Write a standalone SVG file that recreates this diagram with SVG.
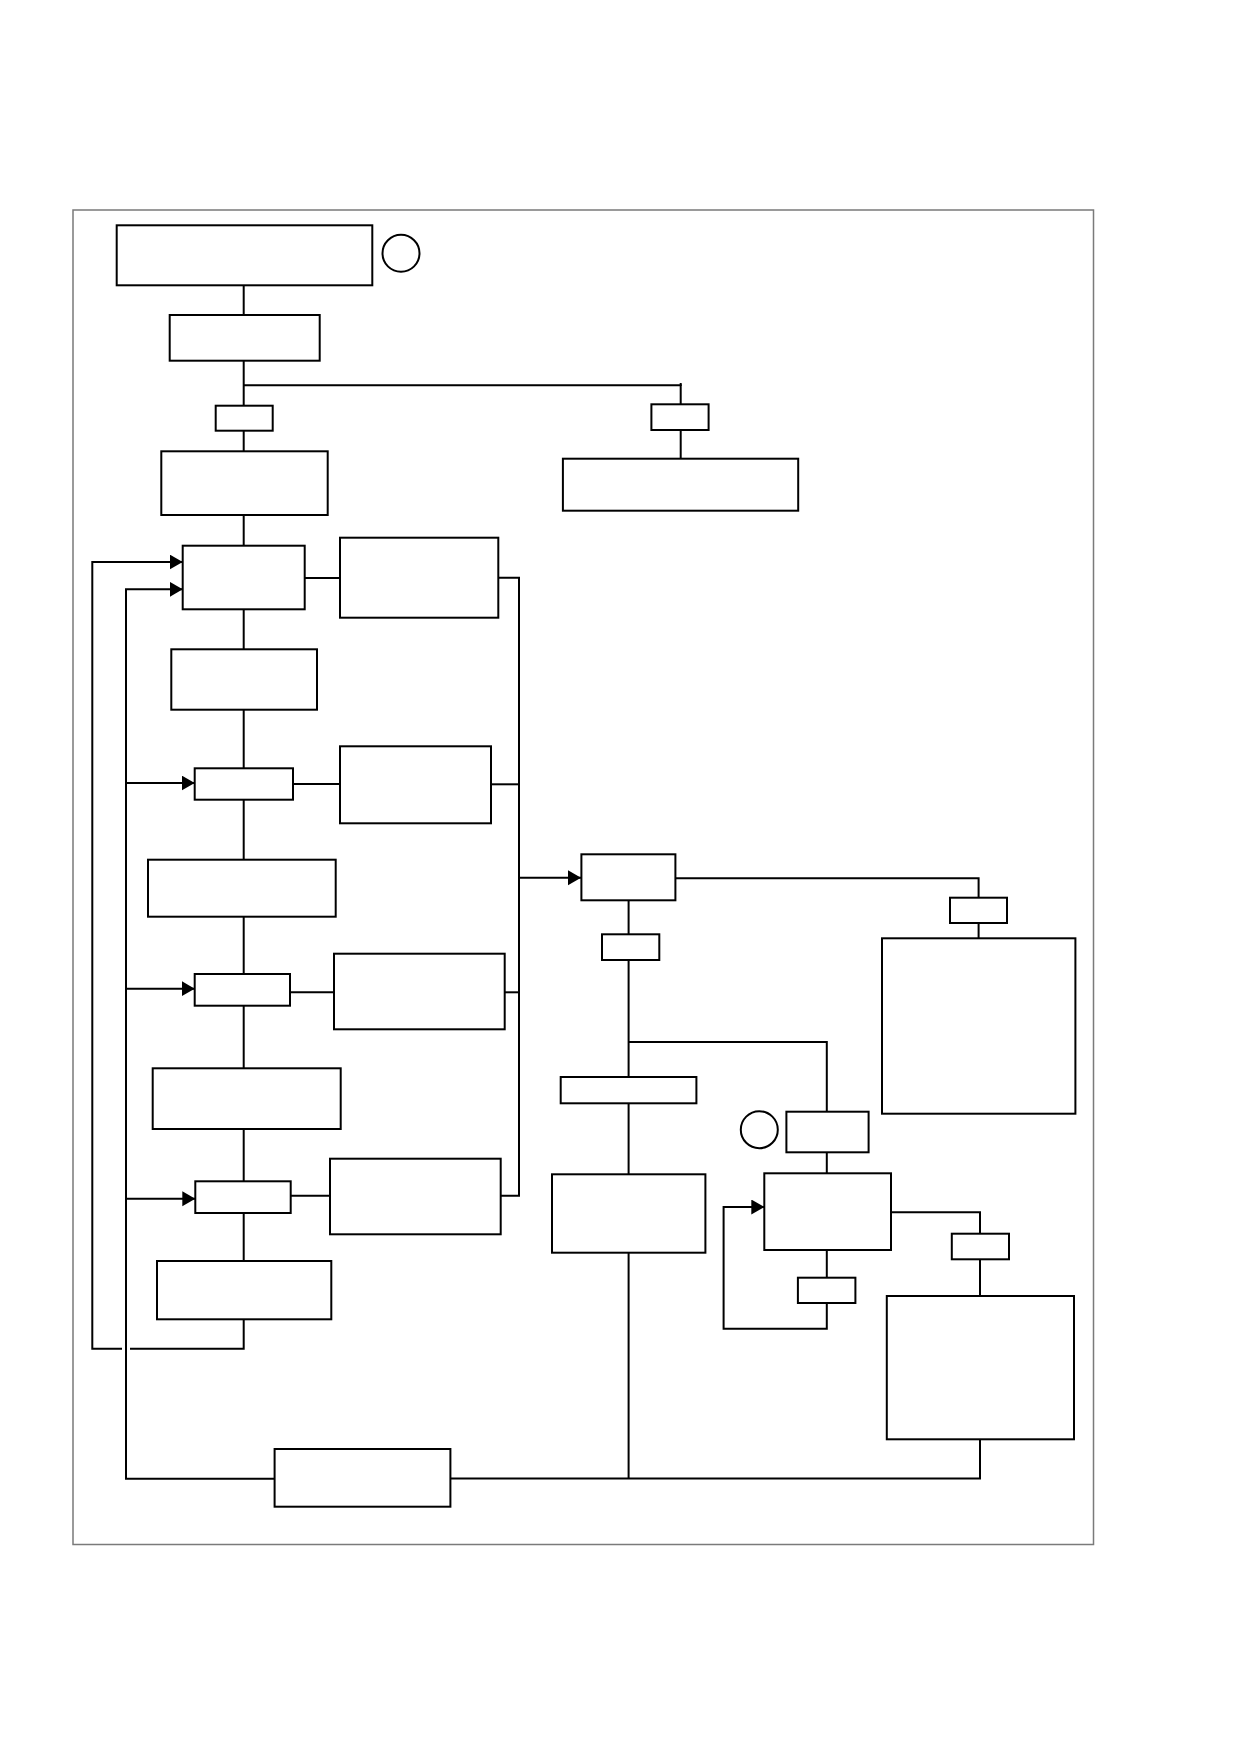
<svg xmlns="http://www.w3.org/2000/svg" width="1239" height="1754" viewBox="0 0 1239 1754">
<style>
.n{fill:#fff;stroke:#000;stroke-width:2}
.c{fill:none;stroke:#000;stroke-width:2}
.f{fill:none;stroke:#7a7a7a;stroke-width:1.5}
</style>
<defs>
<marker id="ah" markerUnits="userSpaceOnUse" markerWidth="14" markerHeight="16" refX="13" refY="7.5" orient="auto"><path d="M0,0 L13,7.5 L0,15 Z" fill="#000"/></marker>
</defs>
<rect width="1239" height="1754" fill="#fff"/>
<rect class="f" x="73" y="210" width="1020.5" height="1334.5"/>
<g id="connectors">
<path class="c" d="M243.7,285.3 V315"/>
<path class="c" d="M243.7,360.7 V405.7"/>
<path class="c" d="M243.7,385.3 H680.7 V404.3"/>
<path class="c" d="M680.7,383 V386"/>
<path class="c" d="M680.7,430 V458.7"/>
<path class="c" d="M243.7,430.7 V451.3"/>
<path class="c" d="M243.7,515 V545.7"/>
<path class="c" d="M243.7,609.3 V649.3"/>
<path class="c" d="M243.7,709.7 V768.3"/>
<path class="c" d="M243.7,799.7 V859.7"/>
<path class="c" d="M243.7,916.7 V974"/>
<path class="c" d="M243.7,1005.7 V1068.3"/>
<path class="c" d="M243.7,1129 V1181.3"/>
<path class="c" d="M243.7,1213 V1261"/>
<path class="c" d="M304.7,578 H340"/>
<path class="c" d="M293,784 H340"/>
<path class="c" d="M290,992.3 H334"/>
<path class="c" d="M290.7,1195.7 H330"/>
<path class="c" d="M498.3,577.7 H519 V1195.7 H500.7"/>
<path class="c" d="M491,784.3 H519"/>
<path class="c" d="M504.7,992.3 H519"/>
<path class="c" d="M519,877.7 H581" marker-end="url(#ah)"/>
<path class="c" d="M243.7,1319.3 V1348.7 H130"/>
<path class="c" d="M122,1348.7 H92.3 V562 H182.7" marker-end="url(#ah)"/>
<path class="c" d="M274.6,1478.7 H126 V589.3 H182.7" marker-end="url(#ah)"/>
<path class="c" d="M126,783 H194.7" marker-end="url(#ah)"/>
<path class="c" d="M126,988.7 H194.7" marker-end="url(#ah)"/>
<path class="c" d="M126,1198.7 H195.3" marker-end="url(#ah)"/>
<path class="c" d="M450.4,1478.5 H980 V1439.3"/>
<path class="c" d="M675.4,878.3 H978.6 V897.7"/>
<path class="c" d="M978.6,923 V938.3"/>
<path class="c" d="M628.6,900.3 V934.3"/>
<path class="c" d="M628.6,960 V1077"/>
<path class="c" d="M628.6,1042 H826.8 V1111.7"/>
<path class="c" d="M628.6,1103.3 V1174.3"/>
<path class="c" d="M628.6,1252.7 V1478.5"/>
<path class="c" d="M826.8,1152.3 V1173.3"/>
<path class="c" d="M891,1212.3 H980 V1233.7"/>
<path class="c" d="M980,1259.3 V1296"/>
<path class="c" d="M826.8,1250 V1277.7"/>
<path class="c" d="M826.8,1303 V1328.7 H723.6 V1207 H764.3" marker-end="url(#ah)"/>
</g>
<g id="n1"><rect class="n" x="116.7" y="225.3" width="255.6" height="60"/></g>
<g id="mark1"><circle class="c" cx="401" cy="253.3" r="18.5" stroke-width="1.8"/></g>
<g id="n2"><rect class="n" x="169.7" y="315" width="150" height="45.7"/></g>
<g id="n3"><rect class="n" x="215.7" y="405.7" width="57" height="25"/></g>
<g id="n4"><rect class="n" x="161.3" y="451.3" width="166.4" height="63.7"/></g>
<g id="n5"><rect class="n" x="651.4" y="404.3" width="57.2" height="25.7"/></g>
<g id="n6"><rect class="n" x="562.9" y="458.7" width="235.3" height="52"/></g>
<g id="n7"><rect class="n" x="182.7" y="545.7" width="122" height="63.6"/></g>
<g id="n8"><rect class="n" x="340" y="537.7" width="158.3" height="80"/></g>
<g id="n9"><rect class="n" x="171.3" y="649.3" width="145.7" height="60.4"/></g>
<g id="n10"><rect class="n" x="194.7" y="768.3" width="98.3" height="31.4"/></g>
<g id="n11"><rect class="n" x="340" y="746.3" width="151" height="77"/></g>
<g id="n12"><rect class="n" x="148" y="859.7" width="187.7" height="57"/></g>
<g id="n13"><rect class="n" x="194.7" y="974" width="95.3" height="31.7"/></g>
<g id="n14"><rect class="n" x="334" y="953.7" width="170.7" height="75.6"/></g>
<g id="n15"><rect class="n" x="152.7" y="1068.3" width="188" height="60.7"/></g>
<g id="n16"><rect class="n" x="195.3" y="1181.3" width="95.4" height="31.7"/></g>
<g id="n17"><rect class="n" x="330" y="1158.7" width="170.7" height="75.6"/></g>
<g id="n18"><rect class="n" x="157" y="1261" width="174.3" height="58.3"/></g>
<g id="n19"><rect class="n" x="274.6" y="1449" width="175.8" height="57.7"/></g>
<g id="n20"><rect class="n" x="581.4" y="854.3" width="94" height="46"/></g>
<g id="n21"><rect class="n" x="950" y="897.7" width="57" height="25.3"/></g>
<g id="n22"><rect class="n" x="882" y="938.3" width="193.4" height="175.4"/></g>
<g id="n23"><rect class="n" x="602" y="934.3" width="57.3" height="25.7"/></g>
<g id="n24"><rect class="n" x="560.7" y="1077" width="135.7" height="26.3"/></g>
<g id="mark2"><circle class="c" cx="759.3" cy="1129.7" r="18.5" stroke-width="1.8"/></g>
<g id="n25"><rect class="n" x="786.4" y="1111.7" width="82.2" height="40.6"/></g>
<g id="n26"><rect class="n" x="552" y="1174.3" width="153.4" height="78.4"/></g>
<g id="n27"><rect class="n" x="764.3" y="1173.3" width="126.7" height="76.7"/></g>
<g id="n28"><rect class="n" x="951.8" y="1233.7" width="57.2" height="25.6"/></g>
<g id="n29"><rect class="n" x="797.9" y="1277.7" width="57.5" height="25.3"/></g>
<g id="n30"><rect class="n" x="886.8" y="1296" width="187.2" height="143.3"/></g>
</svg>
